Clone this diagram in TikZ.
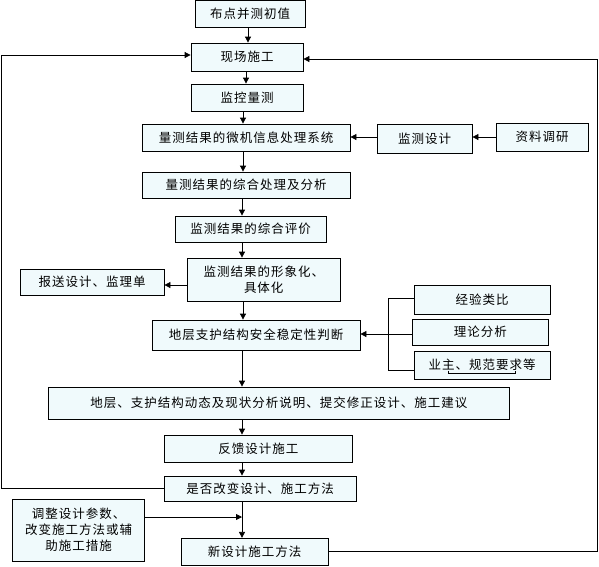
\documentclass[tikz,border=0pt]{standalone}
\usepackage{fontspec}
\newfontfamily\cjk[LetterSpace=8]{Noto Sans CJK SC}
\usetikzlibrary{arrows.meta}
\definecolor{boxfill}{RGB}{240,250,252}
\begin{document}
\begin{tikzpicture}[x=1pt,y=-1pt,
  box/.style={draw=black, line width=0.8pt, fill=boxfill, inner sep=0pt,
    font=\cjk\fontsize{12.5}{16}\selectfont, align=center},
  arr/.style={line width=0.8pt, -{Triangle[length=6pt,width=6pt]}},
  ln/.style={line width=0.8pt}]
\useasboundingbox (0,0) rectangle (599,566);
% boxes
\node[box, minimum width=110pt, minimum height=26.5pt] (b1) at (250,13.75) {布点并测初值};
\node[box, minimum width=112pt, minimum height=28pt] (b2) at (247,57) {现场施工};
\node[box, minimum width=112pt, minimum height=27pt] (b3) at (247,97.5) {监控量测};
\node[box, minimum width=208pt, minimum height=27pt] (b4) at (246,137.5) {量测结果的微机信息处理系统};
\node[box, minimum width=95pt, minimum height=29pt] (jc) at (424.5,138.5) {监测设计};
\node[box, minimum width=92pt, minimum height=28pt] (zl) at (542,137) {资料调研};
\node[box, minimum width=208pt, minimum height=26pt] (b5) at (246,185) {量测结果的综合处理及分析};
\node[box, minimum width=151pt, minimum height=26pt] (b6) at (250.5,229) {监测结果的综合评价};
\node[box, minimum width=152.5pt, minimum height=43pt] (b7) at (263.75,279.5) {监测结果的形象化、\\具体化};
\node[box, minimum width=144pt, minimum height=26pt] (bs) at (92,282) {报送设计、监理单};
\node[box, minimum width=208pt, minimum height=30pt] (b8) at (256,335) {地层支护结构安全稳定性判断};
\node[box, minimum width=136pt, minimum height=29pt] (jy) at (482,299.5) {经验类比};
\node[box, minimum width=135.5pt, minimum height=26pt] (ll) at (480.25,332) {理论分析};
\node[box, minimum width=136pt, minimum height=28pt] (yz) at (482,365) {业主、规范要求等};
\node[box, minimum width=460.4pt, minimum height=32pt] (b9) at (278.8,403) {地层、支护结构动态及现状分析说明、提交修正设计、施工建议};
\node[box, minimum width=187.4pt, minimum height=27pt] (b10) at (258.3,448.5) {反馈设计施工};
\node[box, minimum width=192pt, minimum height=25pt] (b11) at (260,488.5) {是否改变设计、施工方法};
\node[box, minimum width=132pt, minimum height=62pt] (adj) at (78.65,530) {调整设计参数、\\改变施工方法或辅\\助施工措施};
\node[box, minimum width=147pt, minimum height=27pt] (b12) at (254.5,551.75) {新设计施工方法};
% underline mark in yz
\draw[line width=0.5pt] (448,370.5) -- (448,373) -- (515,373) -- (515,370.5);
% column coordinates
\coordinate (c248) at (248,0);
\coordinate (c246) at (246,0);
\coordinate (c243) at (243,0);
\coordinate (c242) at (242,0);
% main chain
\draw[arr] (b1.south -| c248) -- (b2.north -| c248);
\draw[arr] (b2.south -| c246) -- (b3.north -| c246);
\draw[arr] (b3.south -| c243) -- (b4.north -| c243);
\draw[arr] (b4.south -| c243) -- (b5.north -| c243);
\draw[arr] (b5.south -| c242) -- (b6.north -| c242);
\draw[arr] (b6.south -| c242) -- (b7.north -| c242);
\draw[arr] (b7.south -| c243) -- (b8.north -| c243);
\draw[arr] (b8.south -| c242) -- (b9.north -| c242);
\draw[arr] (b9.south -| c242) -- (b10.north -| c242);
\draw[arr] (b10.south -| c242) -- (b11.north -| c242);
\draw[arr] (b11.south -| c242) -- (b12.north -| c242);
% side inputs
\draw[arr] (zl.west) -- (zl.west -| jc.east);
\coordinate (y136) at (0,137);
\draw[arr] (jc.west |- y136) -- (b4.east |- y136);
\coordinate (y285) at (0,285);
\draw[arr] (b7.west |- y285) -- (bs.east |- y285);
\coordinate (y334) at (0,334);
\draw[arr] (ll.west |- y334) -- (b8.east |- y334);
\coordinate (B) at (388,0);
\coordinate (yt) at (0,298);
\coordinate (yb) at (0,370);
\draw[ln] (jy.west |- yt) -- (B |- yt) -- (B |- yb) -- (yz.west |- yb);
\coordinate (J) at (242,517);
\draw[arr] (adj.east |- J) -- (J);
% loops
\coordinate (L) at (1.5,55);
\draw[arr] (b11.west) -- (b11.west -| L) -- (L) -- (L -| b2.west);
\coordinate (R) at (597.5,59);
\draw[arr] (b12.east) -- (b12.east -| R) -- (R) -- (R -| b2.east);
\end{tikzpicture}
\end{document}
